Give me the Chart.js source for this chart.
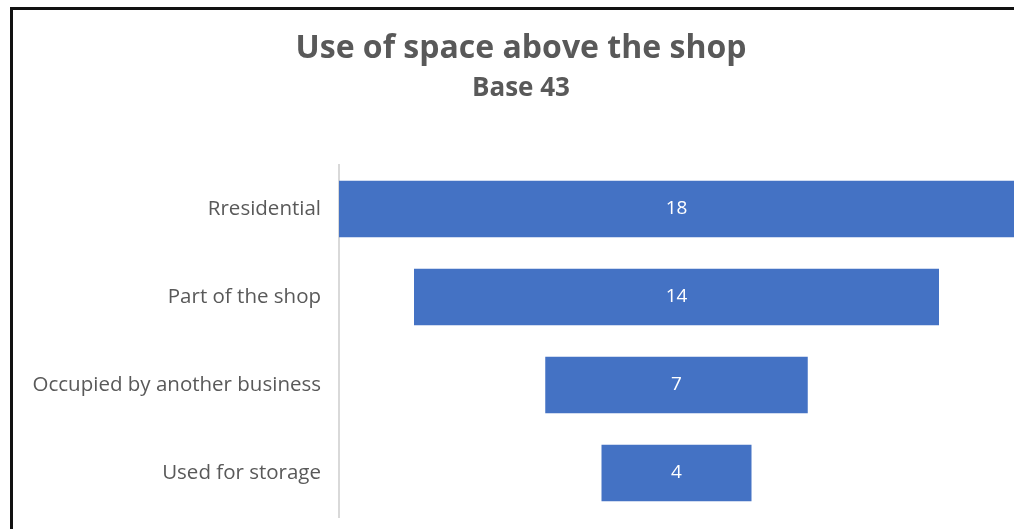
<!DOCTYPE html>
<html>
<head>
<meta charset="utf-8">
<script src="https://cdn.jsdelivr.net/npm/chart.js@4"></script>
<style>
  html, body { margin: 0; padding: 0; background: #fff; }
  .wrap { position: relative; width: 1014px; height: 529px; overflow: hidden; }
  .frame { position: absolute; left: 10px; top: 7px; width: 1010px; height: 530px;
           border-left: 3px solid #111; border-top: 3px solid #111; pointer-events: none; }
  canvas { position: absolute; left: 0; top: 0; }
</style>
</head>
<body>
<div class="wrap">
  <canvas id="chart" width="1014" height="529"></canvas>
  <div class="frame"></div>
</div>
<script>
"use strict";
const categories = ["Rresidential", "Part of the shop", "Occupied by another business", "Used for storage"];
const values = [18, 14, 7, 4];
const titleText = "Use of space above the shop";
const subtitleText = "Base 43";

const fontFamily = "'Open Sans', sans-serif";
const grey = "#595959";

// funnel: each bar centred on zero
const funnelData = values.map((v) => [-v / 2, v / 2]);

const valueLabels = {
  id: "valueLabels",
  afterDatasetsDraw(chart) {
    const ctx = chart.ctx;
    const meta = chart.getDatasetMeta(0);
    ctx.save();
    ctx.fillStyle = "#ffffff";
    ctx.font = "19px " + fontFamily;
    ctx.textAlign = "center";
    ctx.textBaseline = "middle";
    meta.data.forEach((bar, i) => {
      const cx = (bar.x + bar.base) / 2;
      ctx.fillText(String(values[i]), cx, bar.y);
    });
    ctx.restore();
  },
};

const ctx = document.querySelector("#chart").getContext("2d");
new Chart(ctx, {
  type: "bar",
  data: {
    labels: categories,
    datasets: [
      {
        data: funnelData,
        backgroundColor: "#4472C4",
        borderWidth: 0,
        categoryPercentage: 1,
        barPercentage: 0.64,
      },
    ],
  },
  options: {
    indexAxis: "y",
    responsive: false,
    animation: false,
    layout: { padding: { left: 28, right: 0, top: 0, bottom: 12 } },
    plugins: {
      legend: { display: false },
      tooltip: { enabled: false },
      title: {
        display: true,
        text: titleText,
        color: grey,
        font: { family: fontFamily, size: 32, weight: "bold" },
        padding: { top: 30, bottom: 5 },
      },
      subtitle: {
        display: true,
        text: subtitleText,
        color: grey,
        font: { family: fontFamily, size: 26, weight: "bold" },
        padding: { top: 0, bottom: 60.4 },
      },
    },
    scales: {
      x: { display: false, min: -9, max: 9 },
      y: {
        grid: { display: false, drawTicks: false },
        border: { display: true, color: "#d9d9d9", width: 2 },
        ticks: {
          color: grey,
          padding: 18,
          font: { family: fontFamily, size: 20.5 },
        },
        afterFit(scale) {
          // fixed axis width so the plot starts where the original does
          scale.width = 311;
          scale.paddingTop = 0;
          scale.paddingBottom = 0;
        },
      },
    },
  },
  plugins: [valueLabels],
});
</script>
</body>
</html>
